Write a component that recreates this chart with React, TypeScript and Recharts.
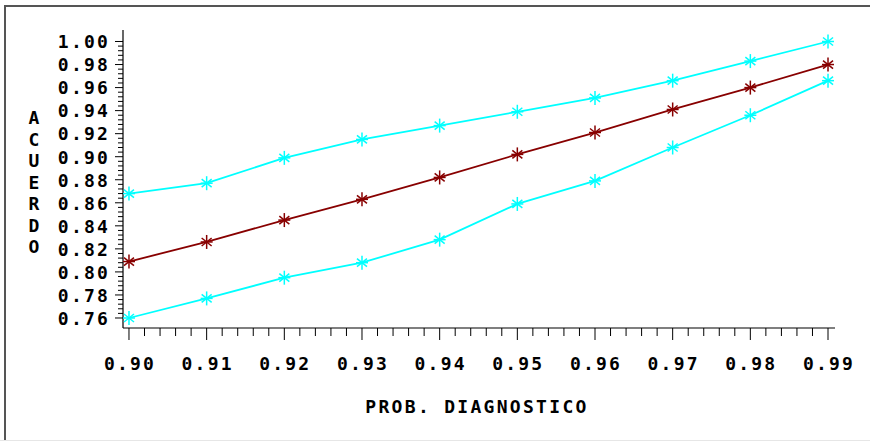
import React from 'react';
import { LineChart, Line, XAxis, YAxis, Label } from 'recharts';

const probs = [0.90, 0.91, 0.92, 0.93, 0.94, 0.95, 0.96, 0.97, 0.98, 0.99];
const upper = [0.868, 0.877, 0.899, 0.915, 0.927, 0.939, 0.951, 0.966, 0.983, 1.000];
const middle = [0.809, 0.826, 0.845, 0.863, 0.882, 0.902, 0.921, 0.941, 0.960, 0.980];
const lower = [0.760, 0.777, 0.795, 0.808, 0.828, 0.859, 0.879, 0.908, 0.936, 0.966];

const yMajorLabels = ['0.76', '0.78', '0.80', '0.82', '0.84', '0.86', '0.88', '0.90', '0.92', '0.94', '0.96', '0.98', '1.00'];
const xMajorLabels = ['0.90', '0.91', '0.92', '0.93', '0.94', '0.95', '0.96', '0.97', '0.98', '0.99'];
const yLabelText = 'ACUERDO';
const xLabelText = 'PROB. DIAGNOSTICO';

const data = probs.map((p, i) => ({ prob: p, upper: upper[i], middle: middle[i], lower: lower[i] }));

// minor ticks every 1/5 of a major step
const yTicks: number[] = [];
for (let i = 0; i < (yMajorLabels.length - 1) * 5 + 1; i++) yTicks.push((760 + i * 4) / 1000);
const xTicks: number[] = [];
for (let i = 0; i < (xMajorLabels.length - 1) * 5 + 1; i++) xTicks.push((900 + i * 2) / 1000);

const FONT = '"DejaVu Sans Mono", monospace';
const CYAN = '#00ffff';
const DARKRED = '#880000';

const XTick = (props: any) => {
  const { x, y, index } = props;
  const major = index % 5 === 0;
  return (
    <g>
      <line x1={x} x2={x} y1={y} y2={y + (major ? 12 : 8)} stroke="#000" strokeWidth={1} />
      {major && (
        <text x={x + 1} y={y + 42} textAnchor="middle" fontFamily={FONT} fontWeight="bold" fontSize={18} letterSpacing={2.2} fill="#000">
          {xMajorLabels[index / 5]}
        </text>
      )}
    </g>
  );
};

const YTick = (props: any) => {
  const { x, y, index } = props;
  const major = index % 5 === 0;
  return (
    <g>
      <line x1={x} x2={x - (major ? 8 : 5)} y1={y} y2={y} stroke="#000" strokeWidth={1} />
      {major && (
        <text x={x - 13} y={y + 6.8} textAnchor="end" fontFamily={FONT} fontWeight="bold" fontSize={18} letterSpacing={2.2} fill="#000">
          {yMajorLabels[index / 5]}
        </text>
      )}
    </g>
  );
};

const Star = (props: any) => {
  const { cx, cy, color } = props;
  if (cx == null || cy == null) return null;
  return (
    <g stroke={color} strokeWidth={1.5}>
      <line x1={cx} x2={cx} y1={cy - 7} y2={cy + 7} />
      <line x1={cx - 6} x2={cx + 6} y1={cy} y2={cy} />
      <line x1={cx - 5} x2={cx + 5} y1={cy - 4} y2={cy + 4} />
      <line x1={cx - 5} x2={cx + 5} y1={cy + 4} y2={cy - 4} />
    </g>
  );
};

const XLabel = (props: any) => {
  const vb = props.viewBox || {};
  return (
    <text x={vb.x + vb.width / 2 - 2} y={413} textAnchor="middle" fontFamily={FONT} fontWeight="bold" fontSize={18} letterSpacing={2.3} fill="#000">
      {xLabelText}
    </text>
  );
};

const YLabel = (props: any) => {
  const vb = props.viewBox || {};
  const cy = vb.y + vb.height / 2 + 3;
  const step = 21.5;
  const letters = yLabelText.split('');
  const start = cy - ((letters.length - 1) * step) / 2;
  return (
    <text fontFamily={FONT} fontWeight="bold" fontSize={18} fill="#000" textAnchor="middle">
      {letters.map((ch, i) => (
        <tspan key={i} x={34} y={start + i * step + 6.8}>{ch}</tspan>
      ))}
    </text>
  );
};

export default function App() {
  return (
    <div style={{ position: 'absolute', left: 0, top: 0, width: 870, height: 441, background: '#fff' }}>
      <LineChart width={870} height={441} data={data} margin={{ top: 30, right: 35, bottom: 0, left: 0 }}>
        <XAxis
          dataKey="prob"
          type="number"
          domain={[0.89923, 0.9909]}
          allowDataOverflow
          ticks={xTicks}
          interval={0}
          tick={<XTick />}
          tickLine={false}
          tickSize={0}
          tickMargin={0}
          axisLine={{ stroke: '#000', strokeWidth: 1.2 }}
          height={113}
        >
          <Label content={<XLabel />} />
        </XAxis>
        <YAxis
          type="number"
          domain={[0.75132, 1.00998]}
          allowDataOverflow
          ticks={yTicks}
          interval={0}
          tick={<YTick />}
          tickLine={false}
          tickSize={0}
          tickMargin={0}
          axisLine={{ stroke: '#000', strokeWidth: 1.2 }}
          width={123}
        >
          <Label content={<YLabel />} />
        </YAxis>
        <Line dataKey="upper" stroke={CYAN} strokeWidth={1.8} isAnimationActive={false} dot={(p: any) => <Star key={'u' + p.index} {...p} color={CYAN} />} activeDot={false} />
        <Line dataKey="lower" stroke={CYAN} strokeWidth={1.8} isAnimationActive={false} dot={(p: any) => <Star key={'l' + p.index} {...p} color={CYAN} />} activeDot={false} />
        <Line dataKey="middle" stroke={DARKRED} strokeWidth={1.8} isAnimationActive={false} dot={(p: any) => <Star key={'m' + p.index} {...p} color={DARKRED} />} activeDot={false} />
      </LineChart>
      <div style={{ position: 'absolute', left: 4, top: 5, width: 866, height: 435, borderTop: '2px solid #555', borderLeft: '2px solid #555', boxSizing: 'border-box', pointerEvents: 'none' }} />
      <div style={{ position: 'absolute', left: 0, top: 440, width: 870, height: 1, background: '#e6e6e6', pointerEvents: 'none' }} />
    </div>
  );
}
